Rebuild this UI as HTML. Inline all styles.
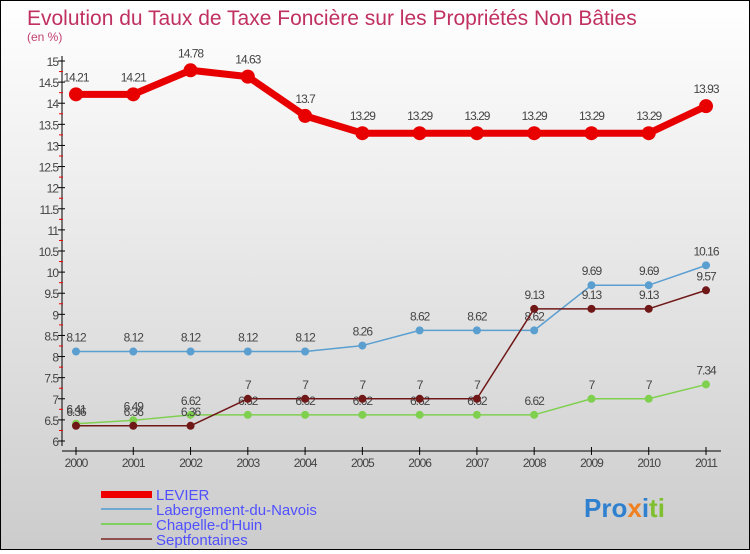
<!DOCTYPE html>
<html><head><meta charset="utf-8"><style>
body{margin:0;width:750px;height:550px;overflow:hidden;font-family:"Liberation Sans",sans-serif}
#c{position:absolute;left:0;top:0;width:748px;height:548px;border:1px solid #000;background:linear-gradient(#fff,#ccc)}
</style></head><body>
<div id="c">
<svg id="s" width="748" height="548" xmlns="http://www.w3.org/2000/svg">
<text x="26" y="24" font-size="21" fill="#c03060">Evolution du Taux de Taxe Foncière sur les Propriétés Non Bâties</text>
<text x="26" y="40" font-size="12" fill="#c04070">(en %)</text>
<g id="g"></g>
<g>
<rect x="100" y="490" width="51" height="7" fill="#e00"/>
<line x1="100" y1="508" x2="151" y2="508" stroke="#6fa8d0" stroke-width="2"/>
<line x1="100" y1="523" x2="151" y2="523" stroke="#80d060" stroke-width="2"/>
<line x1="100" y1="538" x2="151" y2="538" stroke="#905050" stroke-width="2"/>
<g font-size="15" fill="#5050ff">
<text x="155" y="499">LEVIER</text>
<text x="155" y="514">Labergement-du-Navois</text>
<text x="155" y="529">Chapelle-d'Huin</text>
<text x="155" y="544">Septfontaines</text>
</g></g>
<text x="583" y="516" font-size="26" font-weight="bold"><tspan fill="#3080d0">Pro</tspan><tspan fill="#f08020">x</tspan><tspan fill="#3080d0">i</tspan><tspan fill="#80c030">ti</tspan></text>
</svg></div>
<script>
const years=[2000,2001,2002,2003,2004,2005,2006,2007,2008,2009,2010,2011];
const levier=[14.21,14.21,14.78,14.63,13.7,13.29,13.29,13.29,13.29,13.29,13.29,13.93];
const laberg=[8.12,8.12,8.12,8.12,8.12,8.26,8.62,8.62,8.62,9.69,9.69,10.16];
const chapelle=[6.41,6.49,6.62,6.62,6.62,6.62,6.62,6.62,6.62,7,7,7.34];
const septf=[6.36,6.36,6.36,7,7,7,7,7,9.13,9.13,9.13,9.57];
const yTicks=[6,6.5,7,7.5,8,8.5,9,9.5,10,10.5,11,11.5,12,12.5,13,13.5,14,14.5,15];
const NS="http://www.w3.org/2000/svg",g=document.getElementById('g');
const X=i=>75+i*(630/(years.length-1));
const Y=v=>440-(v-6)*(380/9);
function el(t,a,n){const e=document.createElementNS(NS,t);for(const k in a)e.setAttribute(k,a[k]);


g.appendChild(e);return e;}
el('line',{x1:61,y1:55,x2:61,y2:445,stroke:'#000'},'y-axis');
el('line',{x1:61,y1:450,x2:720,y2:450,stroke:'#000'},'x-axis');
yTicks.forEach((v,i)=>{const y=Y(v);
el('line',{x1:57,y1:y,x2:64,y2:y,stroke:'#000'},'y-tick');
const t=el('text',{x:57,y:y+5,'font-size':12,fill:'#444','text-anchor':'end','letter-spacing':'-1'},'y-tick-label');t.textContent=v;
if(i<yTicks.length-1){const y2=Y(v+0.25);el('line',{x1:58,y1:y2,x2:62,y2:y2,stroke:'#e00'},'y-minor-tick');}});
years.forEach((yr,i)=>{el('line',{x1:X(i),y1:446,x2:X(i),y2:454,stroke:'#000'},'x-tick');
const t=el('text',{x:X(i),y:466,'font-size':12,fill:'#444','text-anchor':'middle','letter-spacing':'-1'},'x-tick-label');t.textContent=yr;});
function series(d,col,w,r,name){
el('polyline',{points:d.map((v,i)=>X(i)+','+Y(v)).join(' '),fill:'none',stroke:col,'stroke-width':w,'stroke-linejoin':'round'},name+'-line');
d.forEach((v,i)=>{el('circle',{cx:X(i),cy:Y(v),r:r,fill:col},name+'-point');
const t=el('text',{x:X(i),y:Y(v)-(r+6),'font-size':12,fill:'#444','text-anchor':'middle','letter-spacing':'-1'},name+'-value');t.textContent=v;});}
series(laberg,'#5a9fd0',1.5,4,'labergement');
series(chapelle,'#80d050',1.5,4,'chapelle');
series(septf,'#701818',1.5,4,'septfontaines');
series(levier,'#e80000',7,7,'levier');
</script></body></html>
